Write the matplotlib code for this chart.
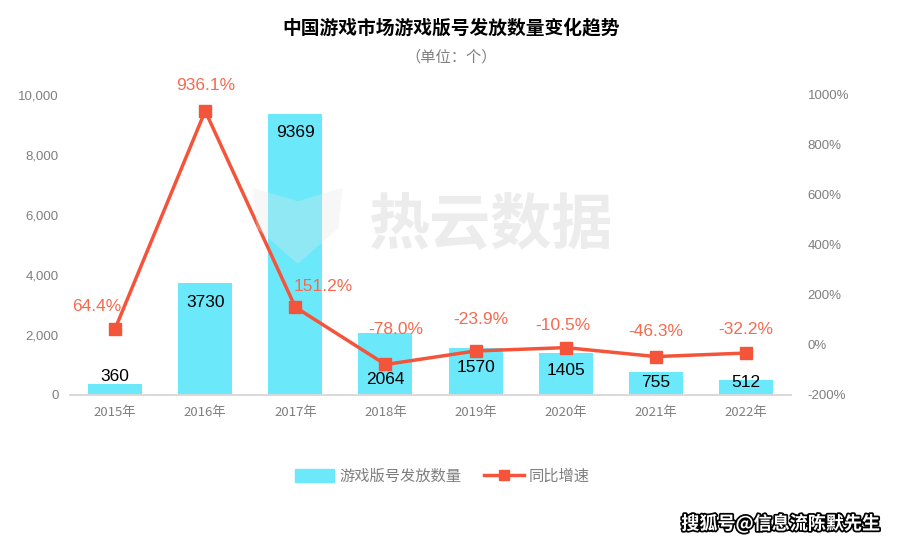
import matplotlib
matplotlib.use("Agg")
import matplotlib.pyplot as plt
import matplotlib.patheffects as pe
from matplotlib.lines import Line2D
from matplotlib.patches import Patch, Polygon

plt.rcParams['font.family'] = ['Noto Sans CJK SC', 'DejaVu Sans']

years = ["2015年", "2016年", "2017年", "2018年", "2019年", "2020年", "2021年", "2022年"]
counts = [360, 3730, 9369, 2064, 1570, 1405, 755, 512]
growth = [64.4, 936.1, 151.2, -78.0, -23.9, -10.5, -46.3, -32.2]

# label placement (data units for bar labels, pixel offsets for line labels)
count_label_y = [633, 3067, 8733, 500, 933, 833, 400, 400]
growth_offsets = [(-18, 22), (0, 25), (28, 21), (10, 35), (5, 31), (-3, 22), (0, 25), (0, 24)]

bar_color = "#6BE9FB"
line_color = "#F4553A"
label_red = "#F56A4F"
gray = "#7F7F7F"

fig = plt.figure(figsize=(9.02, 5.44), dpi=100)
ax = fig.add_axes([0.0776, 0.2739, 0.7994, 0.5515])
ax2 = ax.twinx()

x = range(len(years))
ax.bar(x, counts, width=0.6, color=bar_color, zorder=2)
ax.set_xlim(-0.5, len(years) - 0.5)
ax.set_ylim(0, 10000)
ax.set_yticks(range(0, 10001, 2000))
ax.set_yticklabels([f"{v:,}" for v in range(0, 10001, 2000)])
ax.set_xticks(list(x))
ax.set_xticklabels(years)

for i, (c, ly) in enumerate(zip(counts, count_label_y)):
    ax.text(i, ly, str(c), ha="center", va="center", fontsize=12.5,
            color="black", family=["Liberation Sans", "DejaVu Sans"], zorder=5)

ax2.plot(list(x), growth, color=line_color, lw=2.5, marker="s", ms=9, zorder=4)
ax2.set_ylim(-200, 1000)
ax2.set_yticks(range(-200, 1001, 200))
ax2.set_yticklabels([f"{v}%" for v in range(-200, 1001, 200)])

for i, (g, off) in enumerate(zip(growth, growth_offsets)):
    ax2.annotate(f"{g:.1f}%", (i, g), xytext=off, textcoords="offset pixels",
                 ha="center", va="center", fontsize=12.5, color=label_red,
                 family=["Liberation Sans", "DejaVu Sans"])

for a in (ax, ax2):
    for s in ["top", "left", "right"]:
        a.spines[s].set_visible(False)
    a.spines["bottom"].set_color("#D9D9D9")
    a.spines["bottom"].set_linewidth(1.2)
    a.tick_params(length=0, labelsize=9.5, colors=gray)
    for lab in a.get_yticklabels():
        lab.set_family(["Liberation Sans", "DejaVu Sans"])
ax.tick_params(axis="y", pad=8)
ax2.tick_params(axis="y", pad=12)
ax.tick_params(axis="x", pad=8)
ax.set_zorder(ax2.get_zorder() - 1)
ax2.patch.set_visible(False)

# watermark: faint logo + text
logo = Polygon([[0.28, 0.655], [0.33, 0.63], [0.38, 0.655], [0.375, 0.58],
                [0.33, 0.515], [0.285, 0.58]], closed=True, transform=fig.transFigure,
               facecolor="#E6E6E6", edgecolor="none", alpha=0.3, zorder=0)
fig.patches.append(logo)
fig.text(0.545, 0.585, "热云数据", fontsize=44, color="#ECECEC",
         ha="center", va="center", fontweight="bold", zorder=0)

fig.text(0.5, 0.948, "中国游戏市场游戏版号发放数量变化趋势", ha="center", va="center",
         fontsize=13.5, fontweight="bold", color="black")
fig.text(0.5, 0.895, "（单位：个）", ha="center", va="center", fontsize=11, color=gray)

handles = [Patch(color=bar_color),
           Line2D([0], [0], color=line_color, lw=2.5, marker="s", ms=7)]
fig.legend(handles, ["游戏版号发放数量", "同比增速"], loc="center", ncol=2,
           bbox_to_anchor=(0.49, 0.125), frameon=False, fontsize=11,
           labelcolor=gray, handlelength=2.6, handleheight=0.9,
           handletextpad=0.3, columnspacing=1.5)

fig.text(0.975, 0.037, "搜狐号@信息流陈默先生", ha="right", va="center", fontsize=13,
         fontweight="bold", color="white",
         path_effects=[pe.withStroke(linewidth=2.5, foreground="black")])

fig.savefig("out.png", dpi=100)
